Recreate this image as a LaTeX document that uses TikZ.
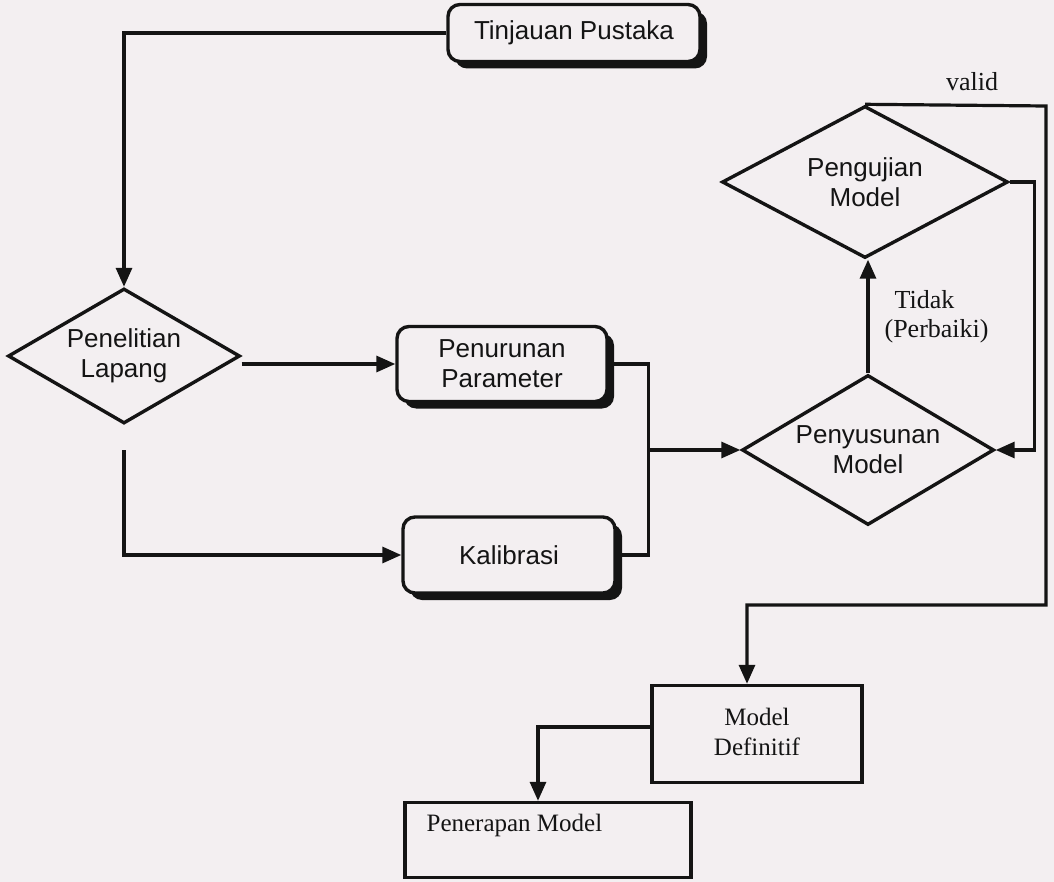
\documentclass[tikz,border=0pt]{standalone}
\usepackage{fontspec}
\setmainfont{Liberation Serif}
\setsansfont{Liberation Sans}
\usetikzlibrary{shapes.geometric,shadows,arrows.meta,calc}
\definecolor{paper}{RGB}{243,239,241}
\definecolor{ink}{RGB}{20,20,20}
\begin{document}
\begin{tikzpicture}[x=1pt,y=-1pt,
  line width=3.2pt, draw=ink,
  every node/.style={inner sep=0pt, text=ink},
  sans/.style={font=\sffamily\fontsize{26}{30}\selectfont, align=center},
  serif/.style={font=\fontsize{25}{30}\selectfont, align=center},
  rbox/.style={draw=ink, rounded corners=12pt, fill=paper, line width=3.4pt,
    drop shadow={shadow xshift=7pt, shadow yshift=-7pt, fill=ink, opacity=1}, sans},
  dia/.style={draw=ink, diamond, sans, line width=3.4pt},
  pbox/.style={draw=ink, rectangle, line width=3.4pt, serif},
  arr/.style={-{Triangle[length=19pt,width=16pt]}},
]
\fill[paper] (0,0) rectangle (1054,882);
\useasboundingbox (0,0) rectangle (1054,882);

% nodes
\node[rbox, minimum width=252pt, minimum height=57pt] (tp) at (574,33) {Tinjauan Pustaka};
\node[dia, aspect=1.72, minimum width=232pt, minimum height=135pt] (pl) at (124,356) {\raisebox{8pt}{\begin{tabular}{@{}c@{}}Penelitian\\Lapang\end{tabular}}};
\node[rbox, minimum width=210pt, minimum height=75pt] (pp) at (502,364) {Penurunan\\Parameter};
\node[rbox, minimum width=212pt, minimum height=76pt] (kb) at (509,555) {Kalibrasi};
\node[dia, aspect=1.68, minimum width=252pt, minimum height=150pt] (ps) at (868,450) {Penyusunan\\Model};
\node[dia, aspect=1.88, minimum width=286pt, minimum height=152pt] (pu) at (865,182) {Pengujian\\Model};
\node[pbox, minimum width=210pt, minimum height=97pt] (md) at (757,734) {\raisebox{6pt}{\begin{tabular}{@{}c@{}}Model\\Definitif\end{tabular}}};
\node[pbox, minimum width=286pt, minimum height=75pt] (pm) at (548,840) {};
\node[serif, anchor=west] (pmt) at (425,825) {Penerapan Model};

% labels
\node[serif, font=\fontsize{26}{30}\selectfont] (lv) at (972,82) {valid};
\node[serif, font=\fontsize{26}{30}\selectfont, anchor=west] (lt) at (893,300) {Tidak};
\node[serif, font=\fontsize{26}{30}\selectfont, anchor=west] (lp) at (883,331) {(Perbaiki)};

% connectors
\coordinate (j) at (647,450);
\draw[arr] (tp.west) -| (pl.north);
\draw[arr] (pl.east |- pp.west) -- (pp.west);
\draw[arr, shorten <=25pt] (pl.south) |- (kb.west);
\draw (pp.east) -- ++(40,0) |- (kb.east);
\draw[arr] (j) -- (ps.west);
\draw[arr] (ps.north) -- (ps.north |- pu.south);
\draw[arr] (pu.east) -- ++(25,0) |- (ps.east);
\draw[arr] (pu.north) -- (1046,106) -- (1046,605) -| ($(md.north)+(-10,0)$);
\draw[arr] ($(md.west)+(0,-7)$) -| ($(pm.north)+(-10,0)$);
\end{tikzpicture}
\end{document}
